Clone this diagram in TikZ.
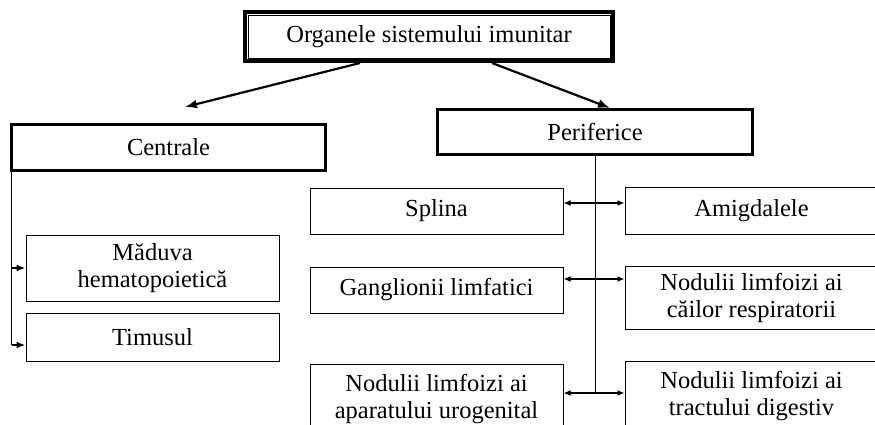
\documentclass[tikz,border=0pt]{standalone}
\usepackage{fontspec}
\setmainfont{Liberation Serif}
\usetikzlibrary{calc,arrows.meta}

\begin{document}
\begin{tikzpicture}[x=1pt,y=-1pt,font=\fontsize{24.5}{27}\selectfont,
  box/.style={draw,line width=1pt,minimum width=253pt,inner sep=0pt,align=center},
  bigbox/.style={draw,line width=3pt,inner sep=0pt},
  ln/.style={line width=0.9pt},
  arr/.style={line width=1.8pt,-{Latex[length=9pt,width=7pt]}},
  darr/.style={line width=1.8pt,{Latex[length=7pt,width=6pt]}-{Latex[length=7pt,width=6pt]}}]
\useasboundingbox (0,0) rectangle (875,424);
\node[bigbox,line width=4pt,minimum width=368pt,minimum height=49pt] (organe) at (429,36.5) {Organele sistemului imunitar};
\draw[line width=0.7pt] ([xshift=5pt,yshift=-5pt]organe.north west) rectangle ([xshift=-5pt,yshift=5pt]organe.south east);
\node[bigbox,minimum width=314pt,minimum height=46pt] (centrale) at (168.5,147.5) {Centrale};
\node[bigbox,minimum width=315pt,minimum height=45pt] (peri) at (595,132) {Periferice};
\node[box,minimum height=66pt] (maduva) at (152.5,268) {Măduva\\hematopoietică};
\node[box,minimum height=48pt] (timus) at (152.5,337) {Timusul};
\node[box,minimum height=46pt] (splina) at (436.5,211) {Splina};
\node[box,minimum height=46pt] (gangl) at (436.5,290) {Ganglionii limfatici};
\node[box,minimum height=70pt] (urog) at (436.5,399) {Nodulii limfoizi ai\\aparatului urogenital};
\node[box,minimum height=47pt] (amig) at (751.5,210.5) {Amigdalele};
\node[box,minimum height=63pt] (resp) at (751.5,297.5) {Nodulii limfoizi ai\\căilor respiratorii};
\node[box,minimum height=70pt] (dig) at (751.5,396) {Nodulii limfoizi ai\\tractului digestiv};
\coordinate (cend) at (185,107);
\coordinate (cbus) at ([xshift=1.5pt]centrale.south west);
\coordinate (pbus) at (peri.south);
% from the top box
\draw[arr,line width=2.2pt,-{Latex[length=12pt,width=9pt]}] (organe.south -| 360,0) -- (cend);
\draw[arr,line width=2.2pt,-{Latex[length=12pt,width=9pt]}] (organe.south -| 492,0) -- (peri.north -| 610,0);
% central organs
\draw[ln] (cbus) -- (cbus |- 0,345);
\draw[arr] (cbus |- maduva.west) -- (maduva.west);
\draw[arr] (cbus |- 0,345) -- (timus.west |- 0,345);
% peripheral organs
\draw[ln] (pbus) -- (pbus |- 0,393);
\draw[darr] (splina.east |- 0,203) -- (amig.west |- 0,203);
\draw[darr] (gangl.east |- 0,279) -- (resp.west |- 0,279);
\draw[darr] (urog.east |- 0,393) -- (dig.west |- 0,393);
\end{tikzpicture}
\end{document}
